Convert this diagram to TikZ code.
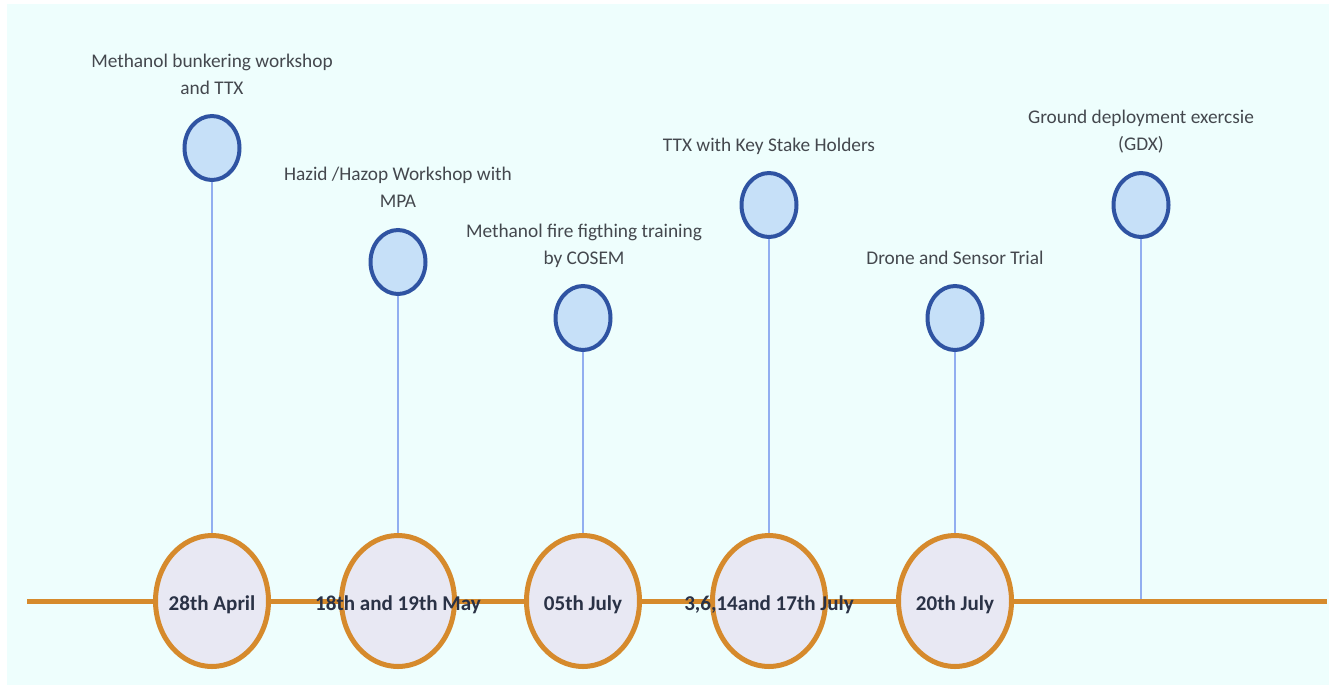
\documentclass[tikz,border=0pt]{standalone}
\usepackage{fontspec}
\setmainfont{Carlito}
\usepackage{tikz}
\usetikzlibrary{shapes.geometric,positioning,calc}

\begin{document}
\begin{tikzpicture}[
            x=0.75pt,y=-0.75pt,
            datering/.style={ellipse,draw=lineOrange,fill=ringFill,line width=3.75pt,
                minimum width=84.75pt,minimum height=98.25pt,inner sep=0pt},
            datetext/.style={font=\fontsize{15.8}{18}\selectfont\bfseries,text=dateText,inner sep=0pt,anchor=base},
            event/.style={ellipse,draw=dotBlue,fill=dotFill,line width=3pt,
                minimum width=41.25pt,minimum height=48pt,inner sep=0pt},
            eventtext/.style={font=\fontsize{14.5}{20.25}\selectfont,text=labelGray,align=center,inner sep=0pt},
            stem/.style={draw=stemBlue,line width=2.2pt}
        ]

        % Define colors
        \definecolor{bgCyan}{RGB}{238,254,253};
        \definecolor{lineOrange}{RGB}{214,138,44};
        \definecolor{ringFill}{RGB}{232,232,243};
        \definecolor{dateText}{RGB}{42,50,70};
        \definecolor{dotBlue}{RGB}{47,83,162};
        \definecolor{dotFill}{RGB}{198,224,248};
        \definecolor{stemBlue}{RGB}{146,174,240};
        \definecolor{labelGray}{RGB}{68,72,78};

        % Background
        \useasboundingbox (0,0) rectangle (1329,687);
        \fill[bgCyan] (7,4) rectangle (1329,685);

        % Events above the line
        \node[event] (bunkering) at (212,148) {};
        \node[event] (hazid) at (398,262) {};
        \node[event] (firefight) at (583,318) {};
        \node[event] (ttx) at (769,205) {};
        \node[event] (drone) at (955,318) {};
        \node[event] (gdx) at (1141,205) {};

        % (base = baseline of the last line)
        \node[eventtext,anchor=base] (bunkeringLbl) at (212,94) {Methanol bunkering workshop\\and TTX};
        \node[eventtext,anchor=base] (hazidLbl) at (398,207) {Hazid /Hazop Workshop with\\MPA};
        \node[eventtext,anchor=base] (firefightLbl) at (584,264) {Methanol fire figthing training\\by COSEM};
        \node[eventtext,anchor=base] (ttxLbl) at (769,151) {TTX with Key Stake Holders};
        \node[eventtext,anchor=base] (droneLbl) at (955,264) {Drone and Sensor Trial};
        \node[eventtext,anchor=base] (gdxLbl) at (1141,150) {Ground deployment exercsie\\(GDX)};

        % Dates on the time line
        \coordinate (lineStart) at (27,601);
        \coordinate (lineEnd) at (1327,601);
        \coordinate (gdxFoot) at (1141,601);

        \node[datering] (april) at (212,601) {};
        \node[datering] (may) at (398,601) {};
        \node[datering] (julyA) at (583,601) {};
        \node[datering] (julyB) at (769,601) {};
        \node[datering] (julyC) at (955,601) {};

        % Stems from events down to the dates
        \draw[stem] (bunkering) -- (april);
        \draw[stem] (hazid) -- (may);
        \draw[stem] (firefight) -- (julyA);
        \draw[stem] (ttx) -- (julyB);
        \draw[stem] (drone) -- (julyC);
        \draw[stem] (gdx) -- (gdxFoot);

        % Draw the time line
        \draw[lineOrange,line width=3.75pt] (lineStart) -- (april) (april) -- (may) (may) -- (julyA)
            (julyA) -- (julyB) (julyB) -- (julyC) (julyC) -- (lineEnd);

        \node[datetext] (aprilLbl) at ($(april)+(0,9)$) {28th April};
        \node[datetext] (mayLbl) at ($(may)+(0,9)$) {18th and 19th May};
        \node[datetext] (julyALbl) at ($(julyA)+(0,9)$) {05th July};
        \node[datetext] (julyBLbl) at ($(julyB)+(0,9)$) {3,6,14and 17th July};
        \node[datetext] (julyCLbl) at ($(julyC)+(0,9)$) {20th July};

\end{tikzpicture}
\end{document}
